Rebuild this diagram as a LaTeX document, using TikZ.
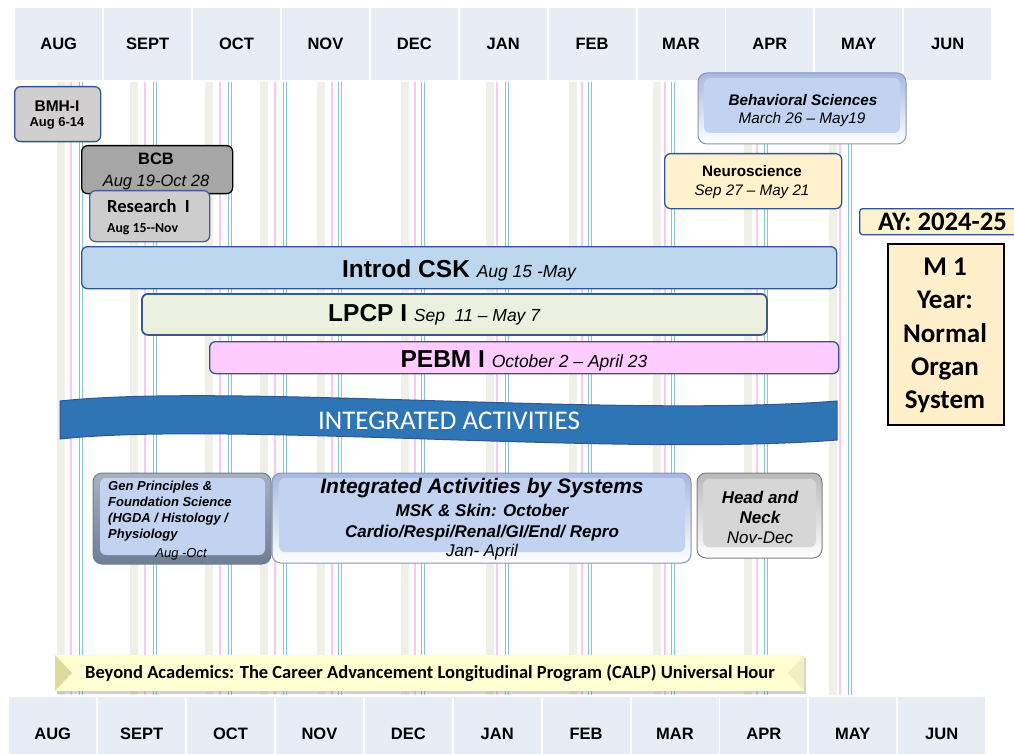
\documentclass[tikz,border=0pt]{standalone}
\usepackage{fontspec}
\setmainfont{Liberation Sans}
\newfontfamily\calfont{Carlito}
\usetikzlibrary{shadows}
\newcommand\fsz[1]{\fontsize{#1}{#1}\selectfont}
\definecolor{hdrfill}{HTML}{E8ECF4}
\definecolor{bordblue}{HTML}{2F5597}
\definecolor{resline}{HTML}{41619A}
\definecolor{lpcpline}{HTML}{3B5A8C}
\definecolor{bmhfill}{HTML}{D0CECE}
\definecolor{bcbfill}{HTML}{A6A6A6}
\definecolor{resfill}{HTML}{CDCDCD}
\definecolor{cskfill}{HTML}{BDD7EE}
\definecolor{lpcpfill}{HTML}{EBF1DE}
\definecolor{pebmfill}{HTML}{FFCCFF}
\definecolor{bannerfill}{HTML}{2E75B6}
\definecolor{creamfill}{HTML}{FFF2CC}
\definecolor{m1fill}{HTML}{FFEFCB}
\definecolor{bevblue}{HTML}{C2D3F1}
\definecolor{bevbluedark}{HTML}{A4B9E0}
\definecolor{bevgray}{HTML}{D6D6D6}
\definecolor{bevline}{HTML}{8A95AB}
\definecolor{genedge}{HTML}{6F7D95}
\definecolor{bandgray}{HTML}{EFF1E8}
\definecolor{linepink}{HTML}{F7C9F3}
\definecolor{lineblue}{HTML}{86C4D8}
\definecolor{calpfill}{HTML}{FFFFD2}
\definecolor{calpleft}{HTML}{DEDA9E}
\definecolor{calpright}{HTML}{F2F0C2}
\begin{document}
\begin{tikzpicture}[x=1pt,y=-1pt,
  hdrcell/.style={fill=hdrfill, anchor=north west, minimum width=87pt, minimum height=72pt, inner sep=0pt, font=\fontsize{16.5}{18}\selectfont\bfseries},
  bar/.style={draw=bordblue, line width=1.3pt, rounded corners=6pt, anchor=north west, inner sep=0pt},
  txt/.style={inner sep=0pt, anchor=base},
  txtw/.style={inner sep=0pt, anchor=base west}]
\useasboundingbox (0,0) rectangle (1014,754);
\clip (0,0) rectangle (1014,754);
\fill[white] (0,0) rectangle (1014,754);

% month headers
\foreach \m [count=\i from 0] in {AUG,SEPT,OCT,NOV,DEC,JAN,FEB,MAR,APR,MAY,JUN}{
  \node[hdrcell] (top\i) at ({15+88.9*\i},8) {\m};
  \node[hdrcell, minimum height=74pt] (bot\i) at ({9+88.9*\i},697) {\m};
}

% vertical guide lines
\foreach \g/\p/\b in {61/71/81,134/145/155,209/220/230,264/275/285,321/332/340,405/415/423,490/497/507,573/582/590,657/665/673,748/757/766,833/840/850}{
  \fill[bandgray] (\g-4,82) rectangle (\g+4,695);
  \draw[linepink, line width=2.5pt] (\p,82) -- (\p,695);
  \draw[lineblue, line width=1.3pt] (\b-1.4,82) -- (\b-1.4,695);
  \draw[lineblue, line width=1.3pt] (\b+1.4,82) -- (\b+1.4,695);
}

% BMH-I
\node[bar, fill=bmhfill, minimum width=86pt, minimum height=55pt] (bmh) at (14,86) {};
\node[txt] (bmh1) at (57,112) {\fsz{15.5}\bfseries BMH-I};
\node[txt] (bmh2) at (57,127) {\fsz{13}\bfseries Aug 6-14};

% BCB
\node[bar, draw=black, fill=bcbfill, minimum width=151pt, minimum height=48pt] (bcb) at (81,145) {};
\node[txt] (bcb1) at (156,165) {\fsz{16.5}\bfseries BCB};
\node[txt] (bcb2) at (156,186) {\fsz{16.5}\itshape Aug 19-Oct 28};

% Research I
\node[bar, draw=resline, fill=resfill, minimum width=120pt, minimum height=51pt] (res) at (89,190) {};
\node[txtw] (res1) at (107,212) {\calfont\fsz{18.5}\bfseries Research\ \ I};
\node[txtw] (res2) at (107,232) {\calfont\fsz{13.8}\bfseries Aug 15-{}-Nov};

% Introd CSK
\node[bar, fill=cskfill, minimum width=755pt, minimum height=42pt] (csk) at (81,246) {};
\node[txt] (csktxt) at (459,277) {\fsz{24.5}\bfseries Introd CSK \fsz{17.5}\mdseries\itshape Aug 15 -May};

% LPCP I
\node[bar, draw=lpcpline, line width=1.8pt, fill=lpcpfill, minimum width=625pt, minimum height=41pt] (lpcp) at (141,293) {};
\node[txtw] (lpcptxt) at (328,321) {\fsz{24.5}\bfseries LPCP I \fsz{17.5}\mdseries\itshape Sep\ \ 11 – May 7};

% PEBM I
\node[bar, fill=pebmfill, minimum width=629pt, minimum height=32pt] (pebm) at (209,341) {};
\node[txt] (pebmtxt) at (524,367) {\fsz{24.5}\bfseries PEBM I \fsz{17.5}\mdseries\itshape October 2 – April 23};

% Integrated activities banner
\draw[fill=bannerfill, draw=bordblue, line width=1pt]
  (60,401) .. controls (230,383) and (620,418) .. (837,401)
  -- (837,440) .. controls (620,457) and (230,421) .. (60,439) -- cycle;
\node[inner sep=0pt, text=white] (bannertxt) at (449,421) {\calfont\fsz{27}INTEGRATED ACTIVITIES};

% Behavioral Sciences (bevel)
\draw[rounded corners=9pt, draw=bevline, line width=1pt, top color=bevbluedark, bottom color=white] (698,73) rectangle (906,144);
\fill[rounded corners=6pt, bevblue] (704,78) rectangle (900,133);
\node[txt] (beh1) at (803,106) {\fsz{15.3}\bfseries\itshape Behavioral Sciences};
\node[txt] (beh2) at (802,124) {\fsz{15.3}\itshape March 26 – May19};

% Neuroscience
\node[bar, fill=creamfill, minimum width=177pt, minimum height=55pt] (neuro) at (664,153) {};
\node[txt] (neuro1) at (752,177) {\fsz{15.2}\bfseries Neuroscience};
\node[txt] (neuro2) at (752,196) {\fsz{15.2}\itshape Sep 27 – May 21};

% AY box
\node[bar, rounded corners=3pt, fill=creamfill, minimum width=160pt, minimum height=26pt] (ay) at (859,208) {};
\node[txt] (aytxt) at (942.5,230) {\calfont\fsz{26.7}\bfseries AY: 2024-25};

% M1 box
\node[draw=black, line width=2pt, fill=m1fill, anchor=north west, minimum width=116pt, minimum height=181pt, inner sep=0pt] (m1) at (887,243) {};
\node[txt] (m1a) at (945,275) {\calfont\fsz{27}\bfseries M 1};
\node[txt] (m1b) at (945,308) {\calfont\fsz{27}\bfseries Year:};
\node[txt] (m1c) at (945,342) {\calfont\fsz{27}\bfseries Normal};
\node[txt] (m1d) at (945,375) {\calfont\fsz{27}\bfseries Organ};
\node[txt] (m1e) at (945,408) {\calfont\fsz{27}\bfseries System};

% Gen Principles (bevel, dark edge)
\draw[rounded corners=9pt, draw=genedge, line width=1pt, top color=genedge!60, bottom color=genedge] (93,473) rectangle (271,564);
\fill[rounded corners=6pt, bevblue] (100,478) rectangle (265,555);
\node[txtw] (gen1) at (108,490) {\fsz{13}\bfseries\itshape Gen Principles \&};
\node[txtw] (gen2) at (108,506) {\fsz{13}\bfseries\itshape Foundation Science};
\node[txtw] (gen3) at (108,522) {\fsz{13}\bfseries\itshape (HGDA / Histology /};
\node[txtw] (gen4) at (108,538) {\fsz{13}\bfseries\itshape Physiology};
\node[txt] (gen5) at (181,557) {\fsz{13}\itshape Aug -Oct};

% Integrated Activities by Systems (bevel)
\draw[rounded corners=9pt, draw=bevline, line width=1pt, top color=bevbluedark, bottom color=white] (272,473) rectangle (691,563);
\fill[rounded corners=6pt, bevblue] (279,478) rectangle (685,552);
\node[txt] (sys1) at (482,493) {\fsz{21}\bfseries\itshape Integrated Activities by Systems};
\node[txt] (sys2) at (482,516) {\fsz{17}\bfseries\itshape MSK \& Skin: October};
\node[txt] (sys3) at (482,537) {\fsz{17}\bfseries\itshape Cardio/Respi/Renal/GI/End/ Repro};
\node[txt] (sys4) at (482,556) {\fsz{17}\itshape Jan- April};

% Head and Neck (bevel)
\draw[rounded corners=9pt, draw=gray, line width=1pt, top color=gray!55, bottom color=white] (697,473) rectangle (822,558);
\fill[rounded corners=6pt, bevgray] (703,479) rectangle (816,547);
\node[txt] (hn1) at (760,503) {\fsz{17}\bfseries\itshape Head and};
\node[txt] (hn2) at (760,523) {\fsz{17}\bfseries\itshape Neck};
\node[txt] (hn3) at (760,543) {\fsz{17}\itshape Nov-Dec};

% Beyond Academics banner
\node[fill=calpfill, anchor=north west, minimum width=749pt, minimum height=36pt, inner sep=0pt,
      drop shadow={shadow xshift=2pt, shadow yshift=-3pt, opacity=0.35}] (calp) at (55,655) {};
\fill[calpleft] (55,655) -- (72,673) -- (55,691) -- cycle;
\fill[calpright] (804,655) -- (788,673) -- (804,691) -- cycle;
\node[txtw] (calptxt) at (85,678) {\calfont\fsz{18.5}\bfseries Beyond Academics: The Career Advancement Longitudinal Program (CALP) Universal Hour};
\end{tikzpicture}
\end{document}
